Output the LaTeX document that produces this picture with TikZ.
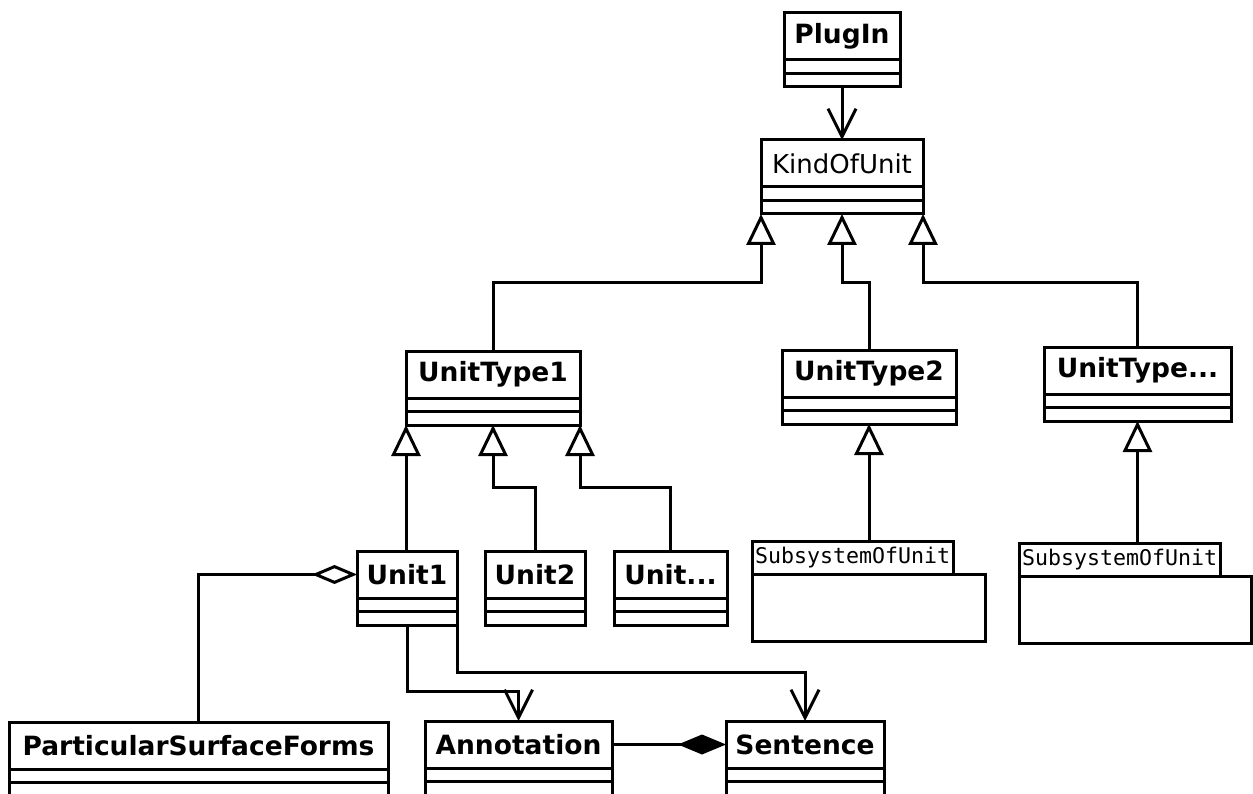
\documentclass[tikz,border=0pt]{standalone}
\usepackage{fontspec}
\setmainfont{DejaVu Sans}
\setmonofont{DejaVu Sans Mono}
\usetikzlibrary{arrows.meta}

\newcommand{\boldtitle}{\fontsize{26.5}{30}\selectfont\bfseries}
\newcommand{\plaintitle}{\fontsize{26}{30}\selectfont}
\newcommand{\tabtitle}{\fontsize{21.6}{24}\selectfont\ttfamily}
% two empty compartments under a class title
\newcommand{\umlcomp}[1]{%
\draw[umlline] ([yshift=-13.5pt]#1.south west) -- ([yshift=-13.5pt]#1.south east);
\draw[umlline] (#1.south west) rectangle ([yshift=-27pt]#1.south east);}

\tikzset{
umlline/.style={line width=3pt},
classbox/.style={draw, umlline, anchor=north west, minimum height=47pt, inner sep=0pt, outer sep=0pt, font=\boldtitle},
tabbox/.style={draw, umlline, anchor=north west, minimum height=33pt, inner xsep=3pt, inner ysep=0pt, outer sep=0pt, font=\tabtitle},
bodybox/.style={draw, umlline, anchor=north west, minimum height=67pt, outer sep=0pt},
gen/.style={umlline, {Triangle[open, length=31pt, width=29pt]}-},
assoc/.style={umlline, -{Straight Barb[length=28pt, width=28pt]}},
aggr/.style={umlline, {Diamond[open, length=45pt, width=19pt]}-},
comp/.style={umlline, {Diamond[length=48pt, width=20pt]}-}
}

\begin{document}
\begin{tikzpicture}[x=1pt, y=-1pt]
\useasboundingbox (0,0) rectangle (1253,794);
\clip (0,0) rectangle (1253,794);

% classes
\node[classbox, minimum width=116pt] (plugin) at (784,13) {PlugIn};
\node[classbox, font=\plaintitle, minimum width=162pt] (kind) at (761,140) {KindOfUnit};
\node[classbox, minimum width=174pt] (type1) at (406,351) {UnitType1};
\node[classbox, minimum width=174pt] (type2) at (782,350) {UnitType2};
\node[classbox, minimum width=187pt] (typen) at (1044,347) {UnitType...};
\node[classbox, minimum width=100pt] (unit1) at (357,551) {Unit1};
\node[classbox, minimum width=100pt] (unit2) at (485,551) {Unit2};
\node[classbox, minimum width=113pt] (unitn) at (614,551) {Unit...};
\node[classbox, minimum width=379pt] (psf) at (9,722) {ParticularSurfaceForms};
\node[classbox, minimum width=187pt] (annot) at (425,721) {Annotation};
\node[classbox, minimum width=158pt] (sent) at (726,721) {Sentence};
\foreach \c in {plugin,kind,type1,type2,typen,unit1,unit2,unitn,psf,annot,sent}
  \umlcomp{\c};

% subsystems
\node[tabbox] (sub1) at (752,541) {SubsystemOfUnit};
\node[bodybox, minimum width=233pt] (sub1body) at (sub1.south west) {};
\node[tabbox] (sub2) at (1019,543) {SubsystemOfUnit};
\node[bodybox, minimum width=232pt] (sub2body) at (sub2.south west) {};

% connectors
\draw[assoc] ([yshift=-27pt]plugin.south) -- (kind.north);
\draw[gen] ([yshift=-27pt]kind.south west) -- ++(0,69) -| (type1.north);
\draw[gen] ([yshift=-27pt]kind.south) -- ++(0,69) -| (type2.north);
\draw[gen] ([yshift=-27pt]kind.south east) -- ++(0,69) -| (typen.north);
\draw[gen] ([yshift=-27pt]type1.south west) -- (type1.south west |- unit1.north);
\draw[gen] ([yshift=-27pt]type1.south) -- ++(0,62) -| (unit2.north);
\draw[gen] ([yshift=-27pt]type1.south east) -- ++(0,62) -| (unitn.north);
\draw[gen] ([yshift=-27pt]type2.south) -- (type2.south |- sub1.north);
\draw[gen] ([yshift=-27pt]typen.south) -- (typen.south |- sub2.north);
\draw[aggr] (unit1.west) -| (psf.north);
\draw[assoc] ([yshift=-27pt]unit1.south) -- ++(0,66) -| (annot.north);
\draw[assoc] ([yshift=-27pt]unit1.south east) -- ++(0,47) -| (sent.north);
\draw[comp] (sent.west) -- (annot.east);
\end{tikzpicture}
\end{document}
